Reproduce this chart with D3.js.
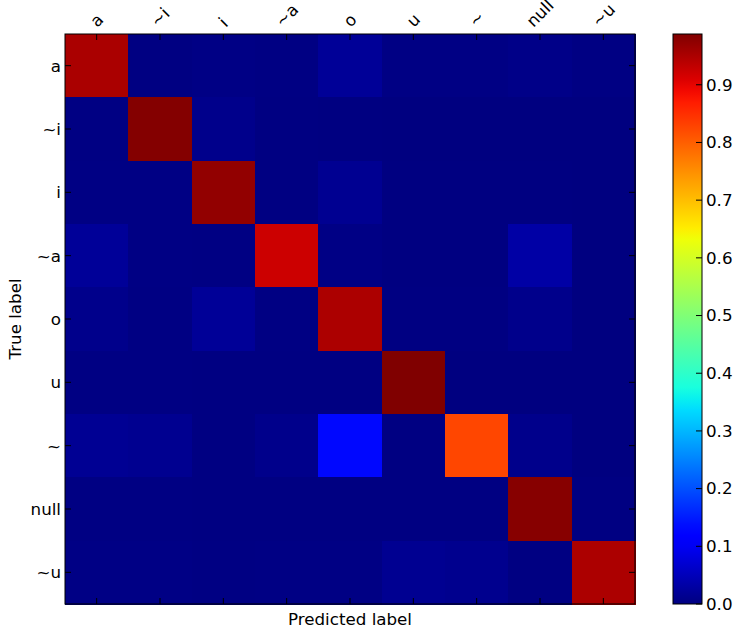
<!DOCTYPE html>
<html>
<head>
<meta charset="utf-8">
<script src="https://cdn.jsdelivr.net/npm/d3@7"></script>
<style>
  body { margin: 0; background: #fff; }
  svg { font-family: "DejaVu Sans", sans-serif; }
</style>
</head>
<body>
<div id="chart"></div>
<script>
// class labels (predicted = columns, true = rows)
var classes = ["a", "~i", "i", "~a", "o", "u", "~", "null", "~u"];

// normalized confusion matrix, one row per true label
var rowA     = [0.952, 0.002, 0.005, 0.003, 0.020, 0.004, 0.004, 0.007, 0.003];
var rowTI    = [0.003, 0.984, 0.010, 0.002, 0.001, 0.000, 0.000, 0.000, 0.000];
var rowI     = [0.004, 0.004, 0.972, 0.002, 0.015, 0.001, 0.001, 0.001, 0.000];
var rowTA    = [0.021, 0.004, 0.003, 0.923, 0.005, 0.001, 0.001, 0.032, 0.000];
var rowO     = [0.010, 0.003, 0.020, 0.003, 0.950, 0.002, 0.002, 0.010, 0.000];
var rowU     = [0.003, 0.003, 0.002, 0.002, 0.002, 0.988, 0.000, 0.000, 0.000];
var rowTilde = [0.017, 0.014, 0.002, 0.010, 0.130, 0.002, 0.826, 0.010, 0.000];
var rowNull  = [0.003, 0.003, 0.002, 0.002, 0.002, 0.002, 0.002, 0.982, 0.002];
var rowTU    = [0.005, 0.005, 0.003, 0.004, 0.004, 0.015, 0.012, 0.002, 0.950];

var matrix = [rowA, rowTI, rowI, rowTA, rowO, rowU, rowTilde, rowNull, rowTU];

var cbarTicks = [0.0, 0.1, 0.2, 0.3, 0.4, 0.5, 0.6, 0.7, 0.8, 0.9];

var width = 741, height = 629;
// note: "top" is taken by window.top, so plot box uses its own names
var boxLeft = 65, boxTop = 34, side = 570;
var cbX = 673, cbW = 29;
var fs = 16.7;

var vmax = d3.max(matrix, function (r) { return d3.max(r); });

// matplotlib "jet"
var jetR = d3.scaleLinear().domain([0, 0.35, 0.66, 0.89, 1]).range([0, 0, 1, 1, 0.5]).clamp(true);
var jetG = d3.scaleLinear().domain([0, 0.125, 0.375, 0.64, 0.91, 1]).range([0, 0, 1, 1, 0, 0]).clamp(true);
var jetB = d3.scaleLinear().domain([0, 0.11, 0.34, 0.65, 1]).range([0.5, 1, 1, 0, 0]).clamp(true);
function jet(t) {
    return d3.rgb(Math.round(jetR(t) * 255), Math.round(jetG(t) * 255), Math.round(jetB(t) * 255)).toString();
}
var norm = d3.scaleLinear().domain([0, vmax]).range([0, 1]).clamp(true);

var svg = d3.select("#chart").append("svg")
    .attr("width", width)
    .attr("height", height);

var x = d3.scaleBand().domain(d3.range(classes.length)).range([boxLeft, boxLeft + side]);
var y = d3.scaleBand().domain(d3.range(classes.length)).range([boxTop, boxTop + side]);

// cells
var cells = [];
matrix.forEach(function (row, i) {
    row.forEach(function (v, j) { cells.push({ r: i, c: j, v: v }); });
});

svg.append("g").selectAll("rect")
    .data(cells)
    .enter()
    .append("rect")
    .attr("x", function (d) { return x(d.c); })
    .attr("y", function (d) { return y(d.r); })
    .attr("width", x.bandwidth() + 0.5)
    .attr("height", y.bandwidth() + 0.5)
    .attr("fill", function (d) { return jet(norm(d.v)); })
    .attr("shape-rendering", "crispEdges");

// ticks on all four sides, pointing inward
var tk = svg.append("g").attr("stroke", "#000").attr("stroke-width", 1);
d3.range(classes.length).forEach(function (k) {
    var cx = x(k) + x.bandwidth() / 2, cy = y(k) + y.bandwidth() / 2;
    tk.append("line").attr("x1", cx).attr("x2", cx).attr("y1", boxTop).attr("y2", boxTop + 6);
    tk.append("line").attr("x1", cx).attr("x2", cx).attr("y1", boxTop + side).attr("y2", boxTop + side - 6);
    tk.append("line").attr("y1", cy).attr("y2", cy).attr("x1", boxLeft).attr("x2", boxLeft + 6);
    tk.append("line").attr("y1", cy).attr("y2", cy).attr("x1", boxLeft + side).attr("x2", boxLeft + side - 6);
});

// frame
svg.append("rect")
    .attr("x", boxLeft).attr("y", boxTop)
    .attr("width", side).attr("height", side)
    .attr("fill", "none").attr("stroke", "#000").attr("stroke-width", 1);

// row labels
svg.append("g").selectAll("text")
    .data(classes)
    .enter()
    .append("text")
    .attr("x", boxLeft - 4)
    .attr("y", function (d, i) { return y(i) + y.bandwidth() / 2; })
    .attr("dy", "0.35em")
    .attr("text-anchor", "end")
    .attr("font-size", fs)
    .text(function (d) { return d; });

// column labels on top, rotated 45 deg, rotated box centered over tick
var colLabels = svg.append("g").selectAll("text")
    .data(classes)
    .enter()
    .append("text")
    .attr("text-anchor", "middle")
    .attr("dy", "0.35em")
    .attr("font-size", fs)
    .text(function (d) { return d; });

colLabels.attr("transform", function (d, i) {
    var w = this.getComputedTextLength(), h = 12;
    var half = (w + h) / (2 * Math.SQRT2);
    var cx = x(i) + x.bandwidth() / 2;
    var cy = boxTop - 6 - half;
    return "translate(" + cx + "," + cy + ") rotate(-45)";
});

// axis titles
svg.append("text")
    .attr("x", boxLeft + side / 2)
    .attr("y", 625)
    .attr("text-anchor", "middle")
    .attr("font-size", fs)
    .text("Predicted label");

svg.append("text")
    .attr("transform", "translate(21," + (boxTop + side / 2) + ") rotate(-90)")
    .attr("text-anchor", "middle")
    .attr("font-size", fs)
    .text("True label");

// colorbar
var cb = d3.scaleLinear().domain([0, vmax]).range([boxTop + side, boxTop]);
var defs = svg.append("defs");
var grad = defs.append("linearGradient")
    .attr("id", "jetgrad")
    .attr("x1", 0).attr("y1", 1).attr("x2", 0).attr("y2", 0);
d3.range(0, 1.0001, 0.02).forEach(function (t) {
    grad.append("stop").attr("offset", t).attr("stop-color", jet(t));
});

svg.append("rect")
    .attr("x", cbX).attr("y", boxTop)
    .attr("width", cbW).attr("height", side)
    .attr("fill", "url(#jetgrad)")
    .attr("stroke", "#000").attr("stroke-width", 1);

var cbg = svg.append("g");
cbg.selectAll("line")
    .data(cbarTicks)
    .enter()
    .append("line")
    .attr("x1", cbX + cbW - 6).attr("x2", cbX + cbW)
    .attr("y1", function (d) { return cb(d); })
    .attr("y2", function (d) { return cb(d); })
    .attr("stroke", "#000");

cbg.selectAll("text")
    .data(cbarTicks)
    .enter()
    .append("text")
    .attr("x", cbX + cbW + 4)
    .attr("y", function (d) { return cb(d); })
    .attr("dy", "0.35em")
    .attr("font-size", fs)
    .text(function (d) { return d3.format(".1f")(d); });
</script>
</body>
</html>
